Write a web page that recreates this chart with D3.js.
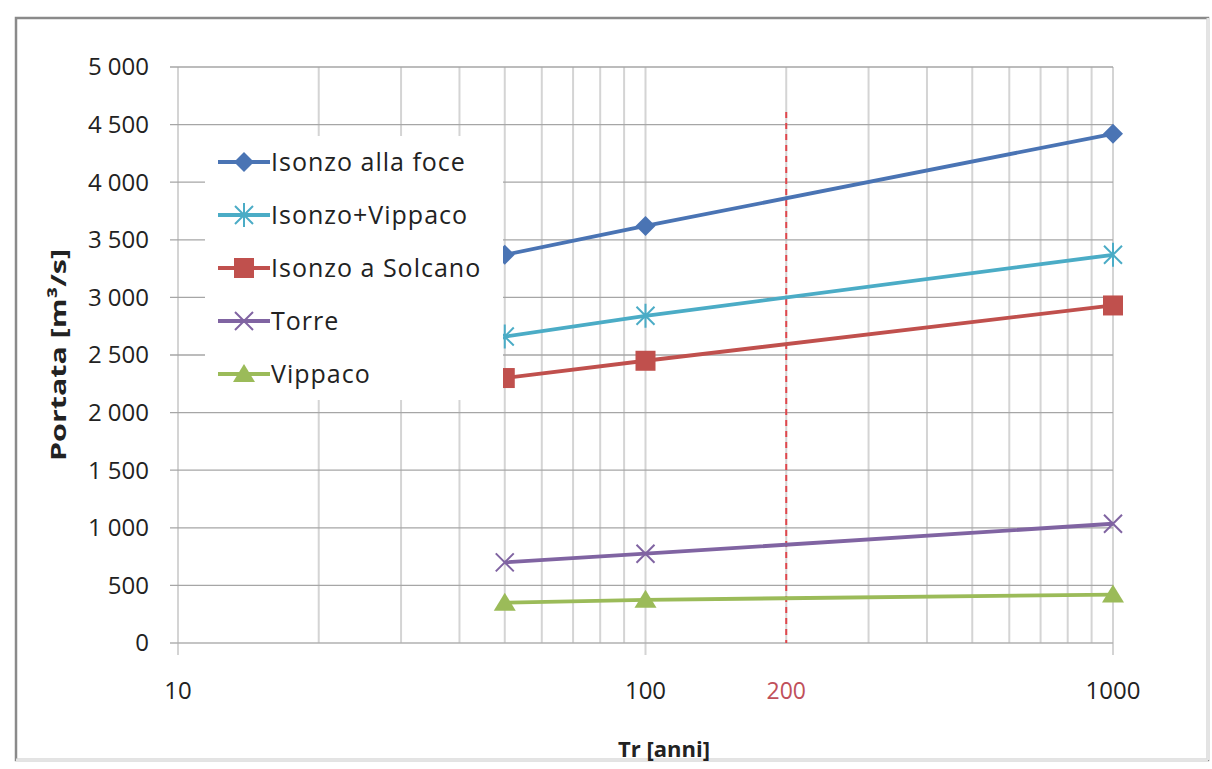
<!DOCTYPE html>
<html><head><meta charset="utf-8">
<script src="https://cdn.jsdelivr.net/npm/d3@7"></script>
<style>body{margin:0;background:#fff}svg{display:block}</style>
</head><body>
<svg id="c" width="1212" height="769"></svg>
<script>
const tr = [50, 100, 1000];
const isonzoFoce = [3370, 3620, 4420];
const isonzoVippaco = [2660, 2840, 3370];
const isonzoSolcano = [2300, 2450, 2930];
const torre = [700, 775, 1035];
const vippaco = [350, 375, 420];
const seriesNames = ["Isonzo alla foce", "Isonzo+Vippaco", "Isonzo a Solcano", "Torre", "Vippaco"];
const yTicks = [0, 500, 1000, 1500, 2000, 2500, 3000, 3500, 4000, 4500, 5000];
const xTickLabels = [10, 100, 1000];
const refLine = 200;

const svg = d3.select("#c");
const font = "'Open Sans', sans-serif";
const x = d3.scaleLog().domain([10, 1000]).range([178, 1113]);
const y = d3.scaleLinear().domain([0, 5000]).range([643, 67]);

// outer frame
svg.append("rect").attr("x", 16).attr("y", 18).attr("width", 1192).attr("height", 742)
  .attr("fill", "#fff").attr("stroke", "#8a8a8a").attr("stroke-width", 2.5);
svg.append("line").attr("x1",1208).attr("x2",1208).attr("y1",18).attr("y2",760).attr("stroke","#e4e4e4").attr("stroke-width",3);
svg.append("line").attr("x1",16).attr("x2",1208).attr("y1",760).attr("y2",760).attr("stroke","#e4e4e4").attr("stroke-width",3);

// vertical grid
const vgrid = [];
for (let d = 10; d <= 1000; d *= 10) for (let k = 1; k < 10; k++) { const v = d * k; if (v <= 1000) vgrid.push(v); }
svg.append("g").selectAll("line").data(vgrid).join("line")
  .attr("x1", d => x(d)).attr("x2", d => x(d))
  .attr("y1", y(5000)).attr("y2", d => [10,100,1000].includes(d) ? 655 : y(0))
  .attr("stroke", "#d4d4d4").attr("stroke-width", 2);

// horizontal grid
svg.append("g").selectAll("line").data(yTicks).join("line")
  .attr("x1", 170).attr("x2", x(1000))
  .attr("y1", d => y(d)).attr("y2", d => y(d))
  .attr("stroke", d => d === 0 ? "#b0b0b0" : "#a6a6a6").attr("stroke-width", 1.3);

// y tick labels
svg.append("g").selectAll("text").data(yTicks).join("text")
  .attr("x", 149).attr("y", d => y(d)).attr("dy", "0.35em").attr("text-anchor", "end")
  .attr("font-family", font).attr("font-size", 24).attr("fill", "#222")
  .text(d => d3.format(",")(d).replace(",", " "));

// x tick labels
svg.append("g").selectAll("text").data(xTickLabels).join("text")
  .attr("x", d => x(d)).attr("y", 699).attr("text-anchor", "middle")
  .attr("font-family", font).attr("font-size", 24).attr("fill", "#222").text(d => d);

// reference line 200
svg.append("line").attr("x1", x(refLine)).attr("x2", x(refLine)).attr("y1", 112).attr("y2", y(0))
  .attr("stroke", "#e0474c").attr("stroke-width", 2).attr("stroke-dasharray", "6,5");
svg.append("text").attr("x", x(refLine)).attr("y", 699).attr("text-anchor", "middle")
  .attr("font-family", font).attr("font-size", 23).attr("fill", "#c0505a").text(refLine);

// axis titles
svg.append("text").attr("transform", "translate(66,355) rotate(-90)").attr("text-anchor", "middle")
  .attr("font-family", font).attr("font-size", 22).attr("font-weight", "bold").attr("fill", "#222")
  .attr("textLength", 212).attr("lengthAdjust", "spacingAndGlyphs")
  .text("Portata [m³/s]");
svg.append("text").attr("x", 664).attr("y", 757).attr("text-anchor", "middle")
  .attr("font-family", font).attr("font-size", 22).attr("font-weight", "bold").attr("fill", "#222")
  .text("Tr [anni]");

const series = [
  {name: seriesNames[0], vals: isonzoFoce, color: "#4a74b4", marker: "diamond"},
  {name: seriesNames[1], vals: isonzoVippaco, color: "#4bacc6", marker: "star"},
  {name: seriesNames[2], vals: isonzoSolcano, color: "#c0504d", marker: "square"},
  {name: seriesNames[3], vals: torre, color: "#8064a2", marker: "x"},
  {name: seriesNames[4], vals: vippaco, color: "#9bbb59", marker: "triangle"}
];

function drawMarker(g, type, cx, cy, color) {
  if (type === "diamond") {
    g.append("path").attr("d", `M${cx},${cy-10}L${cx+10},${cy}L${cx},${cy+10}L${cx-10},${cy}Z`).attr("fill", color);
  } else if (type === "square") {
    g.append("rect").attr("x", cx-10).attr("y", cy-10).attr("width", 20).attr("height", 20).attr("fill", color);
  } else if (type === "triangle") {
    g.append("path").attr("d", `M${cx},${cy-10}L${cx+11},${cy+8}L${cx-11},${cy+8}Z`).attr("fill", color);
  } else if (type === "x") {
    g.append("path").attr("d", `M${cx-9},${cy-9}L${cx+9},${cy+9}M${cx-9},${cy+9}L${cx+9},${cy-9}`)
      .attr("stroke", color).attr("stroke-width", 2).attr("fill", "none");
  } else if (type === "star") {
    g.append("path").attr("d", `M${cx-9},${cy-9}L${cx+9},${cy+9}M${cx-9},${cy+9}L${cx+9},${cy-9}M${cx},${cy-12}L${cx},${cy+12}`)
      .attr("stroke", color).attr("stroke-width", 2).attr("fill", "none");
  }
}

const line = d3.line().x((d, i) => x(tr[i])).y(d => y(d));
series.forEach(s => {
  const g = svg.append("g");
  g.append("path").datum(s.vals).attr("d", line).attr("fill", "none").attr("stroke", s.color).attr("stroke-width", 3.8);
  s.vals.forEach((v, i) => drawMarker(g, s.marker, x(tr[i]), y(v), s.color));
});

// legend
const lg = svg.append("g");
lg.append("rect").attr("x", 205).attr("y", 136).attr("width", 298).attr("height", 264).attr("fill", "#fff");
series.forEach((s, i) => {
  const cy = 162 + i * 53;
  lg.append("line").attr("x1", 218).attr("x2", 270).attr("y1", cy).attr("y2", cy).attr("stroke", s.color).attr("stroke-width", 3.8);
  drawMarker(lg, s.marker, 244, cy, s.color);
  lg.append("text").attr("x", 271).attr("y", cy).attr("dy", "0.35em")
    .attr("font-family", font).attr("font-size", 25).attr("letter-spacing", 1).attr("fill", "#222").text(s.name);
});
</script>
</body></html>
